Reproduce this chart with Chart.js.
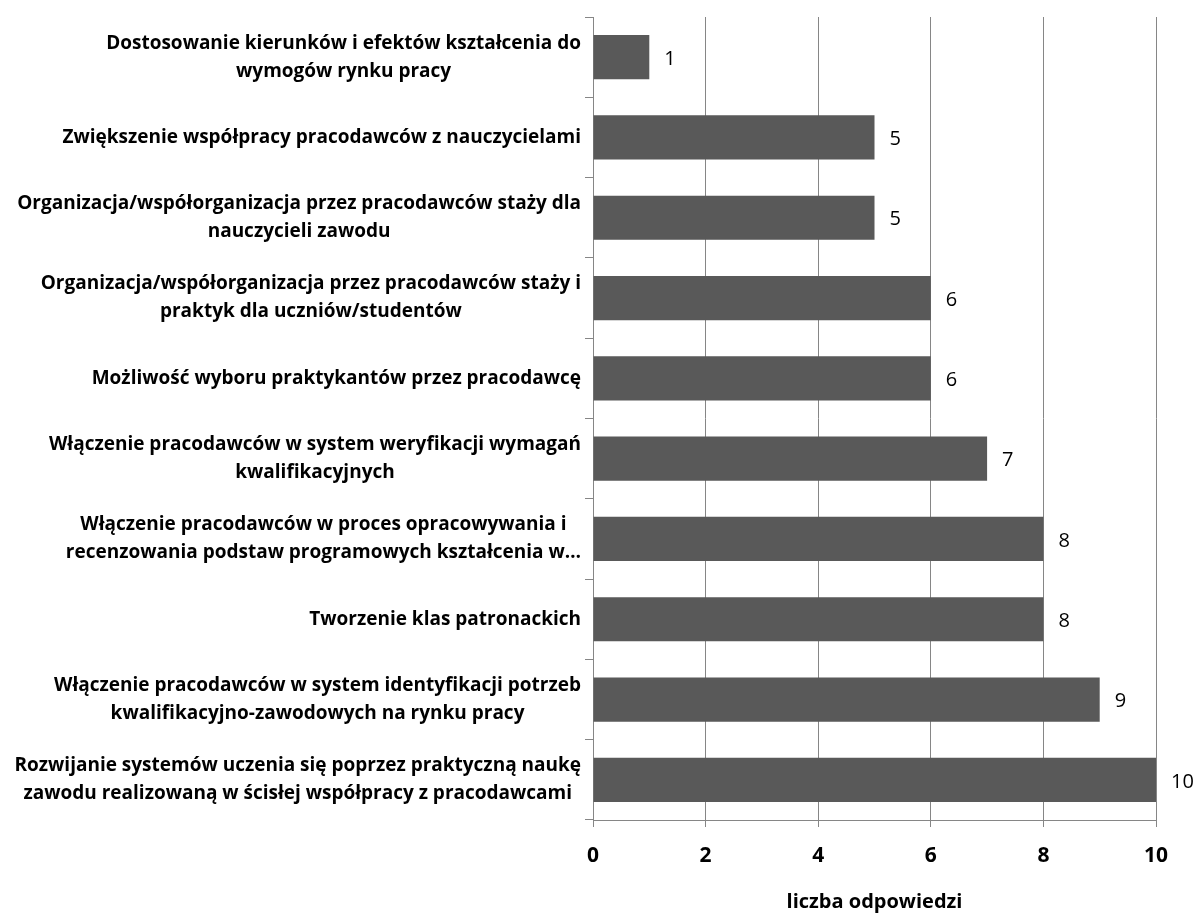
<!DOCTYPE html>
<html>
<head>
<meta charset="utf-8">
<script src="https://cdn.jsdelivr.net/npm/chart.js@4.4.1/dist/chart.umd.min.js"></script>
<style>
  html, body { margin: 0; padding: 0; background: #ffffff; }
  #wrap { width: 1197px; height: 915px; position: relative; }
</style>
</head>
<body>
<div id="wrap"><canvas id="chart"></canvas></div>
<script>
// Categories (top to bottom), each a list of label lines
const categories = [
  ["Dostosowanie kierunków i efektów kształcenia do", "wymogów rynku pracy"],
  ["Zwiększenie współpracy pracodawców z nauczycielami"],
  ["Organizacja/współorganizacja przez pracodawców staży dla", "nauczycieli zawodu"],
  ["Organizacja/współorganizacja przez pracodawców staży i", "praktyk dla uczniów/studentów"],
  ["Możliwość wyboru praktykantów przez pracodawcę"],
  ["Włączenie pracodawców w system weryfikacji wymagań", "kwalifikacyjnych"],
  ["Włączenie pracodawców w proces opracowywania i", "recenzowania podstaw programowych kształcenia w…"],
  ["Tworzenie klas patronackich"],
  ["Włączenie pracodawców w system identyfikacji potrzeb", "kwalifikacyjno-zawodowych na rynku pracy"],
  ["Rozwijanie systemów uczenia się poprzez praktyczną naukę", "zawodu realizowaną w ścisłej współpracy z pracodawcami"]
];
const responses = [1, 5, 5, 6, 6, 7, 8, 8, 9, 10];
const xTicks = [0, 2, 4, 6, 8, 10];
const xTitle = "liczba odpowiedzi";

const FONT = "'Open Sans', Lato, sans-serif";
const GRID = "#868686";

// Category labels: block right-aligned against the axis, lines centred inside the block
const categoryLabels = {
  id: 'categoryLabels',
  afterDraw(chart) {
    const ctx = chart.ctx;
    const y = chart.scales.y;
    const right = y.right - 12;
    const lineH = 28;
    ctx.save();
    ctx.font = "bold 19px " + FONT;
    ctx.fillStyle = "#000000";
    ctx.textAlign = "center";
    ctx.textBaseline = "middle";
    categories.forEach((lines, i) => {
      const w = Math.max(...lines.map(l => ctx.measureText(l).width));
      const cx = right - w / 2;
      const cy = y.getPixelForValue(i);
      const y0 = cy - (lines.length - 1) * lineH / 2;
      lines.forEach((l, k) => ctx.fillText(l, cx, y0 + k * lineH));
    });
    ctx.restore();
  }
};

// Value labels to the right of each bar
const valueLabels = {
  id: 'valueLabels',
  afterDatasetsDraw(chart) {
    const ctx = chart.ctx;
    const meta = chart.getDatasetMeta(0);
    ctx.save();
    ctx.font = "20px " + FONT;
    ctx.fillStyle = "#000000";
    ctx.textAlign = "left";
    ctx.textBaseline = "middle";
    meta.data.forEach((bar, i) => {
      ctx.fillText(String(responses[i]), bar.x + 15, bar.y + 2);
    });
    ctx.restore();
  }
};

new Chart(document.getElementById('chart'), {
  type: 'bar',
  data: {
    labels: categories,
    datasets: [{
      data: responses,
      backgroundColor: '#595959',
      borderWidth: 0,
      categoryPercentage: 1.0,
      barPercentage: 0.55
    }]
  },
  options: {
    indexAxis: 'y',
    responsive: true,
    maintainAspectRatio: false,
    animation: false,
    layout: { padding: { top: 17, right: 41, bottom: 0, left: 0 } },
    plugins: { legend: { display: false }, tooltip: { enabled: false } },
    scales: {
      x: {
        type: 'linear',
        min: 0,
        max: 10,
        afterBuildTicks(scale) { scale.ticks = xTicks.map(v => ({ value: v })); },
        afterFit(scale) { scale.height = 95; },
        border: { display: true, color: GRID, width: 1 },
        grid: { color: GRID, lineWidth: 1, drawTicks: true, tickLength: 7 },
        ticks: {
          color: '#000000',
          font: { family: FONT, size: 21, weight: 'bold' },
          padding: 16
        },
        title: {
          display: true,
          text: xTitle,
          color: '#000000',
          font: { family: FONT, size: 20, weight: 'bold' },
          padding: { top: 0, bottom: 1 }
        }
      },
      y: {
        type: 'category',
        afterFit(scale) { scale.width = 593; },
        border: { display: true, color: GRID, width: 1 },
        grid: { offset: true, drawOnChartArea: false, color: GRID, tickLength: 8 },
        ticks: { display: false }
      }
    }
  },
  plugins: [categoryLabels, valueLabels]
});
</script>
</body>
</html>
